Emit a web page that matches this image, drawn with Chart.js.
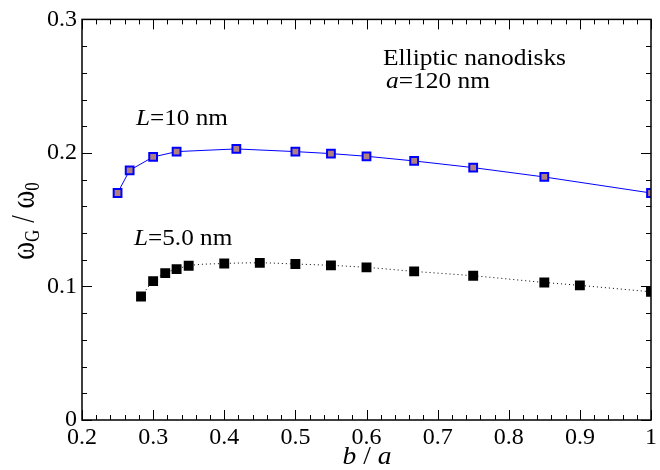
<!DOCTYPE html>
<html>
<head>
<meta charset="utf-8">
<script src="https://cdn.jsdelivr.net/npm/chart.js@4.4.0/dist/chart.umd.min.js"></script>
<style>
  body { margin: 0; background: #fff; font-family: 'Liberation Serif', serif; }
</style>
</head>
<body>
<canvas id="chart" width="660" height="470"></canvas>
<script>
// b/a ratios and omega_G/omega_0
var ratio10 = [0.25, 0.267, 0.30, 0.333, 0.417, 0.50, 0.55, 0.60, 0.667, 0.75, 0.85, 1.0];
var omega10 = [0.170, 0.187, 0.197, 0.201, 0.203, 0.201, 0.1995, 0.1975, 0.194, 0.189, 0.182, 0.170];

var ratio5 = [0.283, 0.30, 0.317, 0.333, 0.35, 0.40, 0.45, 0.50, 0.55, 0.60, 0.667, 0.75, 0.85, 0.90, 1.0];
var omega5 = [0.0925, 0.104, 0.110, 0.113, 0.1155, 0.1172, 0.1177, 0.1168, 0.1158, 0.1143, 0.1113, 0.108, 0.103, 0.1008, 0.096];

var xTicks = [0.2, 0.3, 0.4, 0.5, 0.6, 0.7, 0.8, 0.9, 1.0];
var yTicks = [0, 0.1, 0.2, 0.3];

var serif = "'Liberation Serif', serif";

function pts(xs, ys) {
  return xs.map(function(x, i) { return {x: x, y: ys[i]}; });
}

// frame, inward ticks and texts
var decor = {
  id: 'decor',
  afterDraw: function(chart) {
    var ctx = chart.ctx;
    var a = chart.chartArea;
    var xs = chart.scales.x, ys = chart.scales.y;
    ctx.save();
    ctx.strokeStyle = '#000';
    ctx.lineWidth = 1.5;
    ctx.strokeRect(a.left, a.top, a.right - a.left, a.bottom - a.top);
    ctx.lineWidth = 1;
    ctx.beginPath();
    for (var i = 0; i <= 40; i++) {
      var v = 0.2 + i * 0.02;
      var len = (i % 5 === 0) ? 10 : 5;
      var px = Math.round(xs.getPixelForValue(v)) + 0.5;
      ctx.moveTo(px, a.bottom); ctx.lineTo(px, a.bottom - len);
      ctx.moveTo(px, a.top); ctx.lineTo(px, a.top + len);
    }
    for (var j = 0; j <= 15; j++) {
      var w = j * 0.02;
      var ln = (j % 5 === 0) ? 10 : 5;
      var py = Math.round(ys.getPixelForValue(w)) + 0.5;
      ctx.moveTo(a.left, py); ctx.lineTo(a.left + ln, py);
      ctx.moveTo(a.right, py); ctx.lineTo(a.right - ln, py);
    }
    ctx.stroke();

    ctx.fillStyle = '#000';
    ctx.textBaseline = 'alphabetic';
    ctx.textAlign = 'left';

    // runs of text: [string, italic, size, baseline shift]
    function fontOf(s) {
      return (s[1] ? 'italic ' : 'normal ') + s[2] + 'px ' + serif;
    }
    function runs(segs, x, y, sx) {
      ctx.save();
      ctx.translate(x, y);
      ctx.scale(sx, 1);
      var cx = 0;
      segs.forEach(function(s) {
        ctx.font = fontOf(s);
        ctx.fillText(s[0], cx, s[3] || 0);
        cx += ctx.measureText(s[0]).width;
      });
      ctx.restore();
    }
    function runsWidth(segs) {
      var t = 0;
      segs.forEach(function(s) {
        ctx.font = fontOf(s);
        t += ctx.measureText(s[0]).width;
      });
      return t;
    }

    // x title
    var xt = [['b', true, 25], [' / ', false, 25], ['a', true, 25]];
    runs(xt, 367 - runsWidth(xt) * 1.1 / 2, 464, 1.1);

    // y title, rotated
    var yt = [['\u03c9', false, 27], ['G', false, 17, 4], [' / ', false, 27], ['\u03c9', false, 27], ['0', false, 17, 4]];
    ctx.save();
    ctx.translate(34, 221);
    ctx.rotate(-Math.PI / 2);
    ctx.scale(1, 1.25);
    var tot = runsWidth(yt);
    var cx = -tot / 2;
    yt.forEach(function(p) {
      ctx.font = fontOf(p);
      ctx.fillText(p[0], cx, p[3] || 0);
      cx += ctx.measureText(p[0]).width;
    });
    ctx.restore();

    // annotations
    runs([['Elliptic nanodisks', false, 24]], 383, 65, 1.06);
    runs([['a', true, 24], ['=120 nm', false, 24]], 386, 88, 1.06);
    runs([['L', true, 24], ['=10 nm', false, 24]], 136, 125, 1.05);
    runs([['L', true, 24], ['=5.0 nm', false, 24]], 134, 245, 1.05);
    ctx.restore();
  }
};

function build() {
  new Chart(document.getElementById('chart'), {
    type: 'scatter',
    data: {
      datasets: [{
        label: 'L=10 nm',
        data: pts(ratio10, omega10),
        showLine: true,
        borderColor: '#0000ff',
        borderWidth: 1,
        pointStyle: 'rect',
        pointRadius: 5.5,
        pointBorderWidth: 2,
        pointBorderColor: '#0000ff',
        pointBackgroundColor: '#b08080'
      }, {
        label: 'L=5.0 nm',
        data: pts(ratio5, omega5),
        showLine: true,
        borderColor: '#000',
        borderWidth: 1,
        borderDash: [1, 3],
        cubicInterpolationMode: 'monotone',
        pointStyle: 'rect',
        pointRadius: 7,
        pointBorderWidth: 0,
        pointBackgroundColor: '#000'
      }]
    },
    options: {
      responsive: false,
      animation: false,
      events: [],
      layout: { padding: { left: 0, right: 5, top: 19, bottom: 0 } },
      plugins: {
        legend: { display: false },
        tooltip: { enabled: false }
      },
      scales: {
        x: {
          type: 'linear',
          min: 0.2, max: 1.0,
          afterFit: function(s) { s.height = 50; },
          afterBuildTicks: function(s) { s.ticks = xTicks.map(function(v) { return {value: v}; }); },
          grid: { display: false, drawTicks: false },
          border: { display: false },
          ticks: {
            padding: 3,
            color: '#000',
            font: { family: serif, size: 24 },
            maxRotation: 0,
            callback: function(v) { return v === 1 ? '1' : v.toFixed(1); }
          }
        },
        y: {
          type: 'linear',
          min: 0, max: 0.3,
          afterFit: function(s) { s.width = 82; },
          afterBuildTicks: function(s) { s.ticks = yTicks.map(function(v) { return {value: v}; }); },
          grid: { display: false, drawTicks: false },
          border: { display: false },
          ticks: {
            padding: 5,
            color: '#000',
            font: { family: serif, size: 24 },
            callback: function(v) { return v === 0 ? '0' : v.toFixed(1); }
          }
        }
      }
    },
    plugins: [decor]
  });
}

Promise.all([
  document.fonts.load("24px 'Liberation Serif'"),
  document.fonts.load("italic 24px 'Liberation Serif'")
]).then(build, build);
</script>
</body>
</html>
